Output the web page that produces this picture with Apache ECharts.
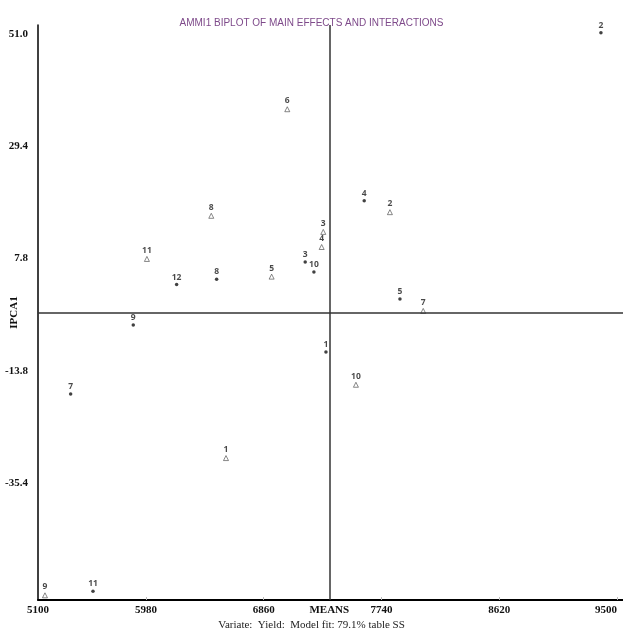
<!DOCTYPE html>
<html>
<head>
<meta charset="utf-8">
<script src="https://cdn.jsdelivr.net/npm/echarts@6/dist/echarts.min.js"></script>
<style>
html,body{margin:0;padding:0;background:#fff;}
#chart{width:623px;height:632px;}
</style>
</head>
<body>
<div id="chart"></div>
<script>
// Genotypes (filled dots)
var genoLabels = ['1','2','3','4','5','7','8','9','10','11','12'];
var genoMeans  = [7325, 9380, 7170, 7611, 7878, 5417, 6508, 5885, 7235, 5584, 6209];
var genoIPCA1  = [-10.2, 51.2, 7.1, 18.9, 0.0, -18.3, 3.8, -5.0, 5.2, -56.2, 2.8];

// Environments (hollow triangles)
var envLabels = ['1','2','3','4','5','6','7','8','9','10','11'];
var envMeans  = [6578, 7803, 7305, 7293, 6919, 7036, 8052, 6468, 5225, 7549, 5987];
var envIPCA1  = [-30.6, 16.7, 12.9, 10.0, 4.3, 36.5, -2.3, 16.0, -57.0, -16.5, 7.7];

// Reference lines
var grandMean = 7350;
var ipcaRef = -2.7;

// Axis ranges and tick labels
var xMin = 5173, xMax = 9545;
var yMin = -57.9, yMax = 52.7;
var xTickValues = [5980, 6860, 7740, 8620, 9500];
var xLabelValues = [5173, 5980, 6860, 7350, 7740, 8620, 9500];
var yTickValues = [-35.4, -13.8, 7.8, 29.4, 51.0];

function pts(xs, ys, ls){
  return xs.map(function(x,i){ return {name: ls[i], value:[x, ys[i]]}; });
}

var chart = echarts.init(document.getElementById('chart'), null, {renderer:'canvas'});
var labelStyle = {
  show:true, position:'top', distance:1,
  formatter:function(p){return p.name;},
  fontFamily:'Open Sans', fontWeight:'bold', fontSize:8.5, color:'#1a1a1a'
};
chart.setOption({
  animation:false,
  backgroundColor:'#fff',
  title:{
    text:'AMMI1 BIPLOT OF MAIN EFFECTS AND INTERACTIONS',
    left:'center', top:13,
    textStyle:{fontFamily:'Liberation Sans', fontSize:10, fontWeight:'normal', color:'#7e4a8a'}
  },
  graphic:[{
    type:'text', left:'center', top:620,
    style:{text:'Variate:  Yield:  Model fit: 79.1% table SS', font:'11px "Liberation Serif"', fill:'#222'}
  }],
  grid:{left:38, right:0, top:25, bottom:32, containLabel:false, outerBoundsMode:'none'},
  xAxis:{
    type:'value', min:xMin, max:xMax,
    splitLine:{show:false},
    axisLine:{show:true, onZero:false, lineStyle:{color:'#000', width:2}},
    axisTick:{show:true, inside:true, length:3, lineStyle:{color:'#bbb'}, customValues:xTickValues},
    axisLabel:{
      customValues:xLabelValues, margin:5, alignMaxLabel:'right',
      fontFamily:'Liberation Serif', fontWeight:'bold', fontSize:11, color:'#111',
      formatter:function(v){
        if (v === xMin) return '5100';
        if (v === grandMean) return 'MEANS';
        return String(v);
      }
    }
  },
  yAxis:{
    type:'value', min:yMin, max:yMax,
    name:'IPCA1', nameLocation:'middle', nameGap:18, nameRotate:90, nameMoveOverlap:false,
    nameTextStyle:{fontFamily:'Liberation Serif', fontWeight:'bold', fontSize:11, color:'#111'},
    splitLine:{show:false},
    axisLine:{show:true, onZero:false, lineStyle:{color:'#000', width:1.5}},
    axisTick:{show:false},
    axisLabel:{
      customValues:yTickValues, margin:10,
      fontFamily:'Liberation Serif', fontWeight:'bold', fontSize:11, color:'#111',
      formatter:function(v){return v.toFixed(1);}
    }
  },
  series:[
    {
      type:'scatter', name:'Genotypes',
      symbol:'circle', symbolSize:3.5,
      itemStyle:{color:'#111'},
      label:labelStyle,
      data:pts(genoMeans, genoIPCA1, genoLabels),
      markLine:{
        silent:true, symbol:'none', animation:false,
        label:{show:false},
        lineStyle:{color:'#333', width:1.5, type:'solid'},
        data:[{xAxis:grandMean},{yAxis:ipcaRef}]
      }
    },
    {
      type:'scatter', name:'Environments',
      symbol:'triangle', symbolSize:5,
      itemStyle:{color:'#fff', borderColor:'#444', borderWidth:0.8},
      label:labelStyle,
      data:pts(envMeans, envIPCA1, envLabels)
    }
  ]
});
</script>
</body>
</html>
